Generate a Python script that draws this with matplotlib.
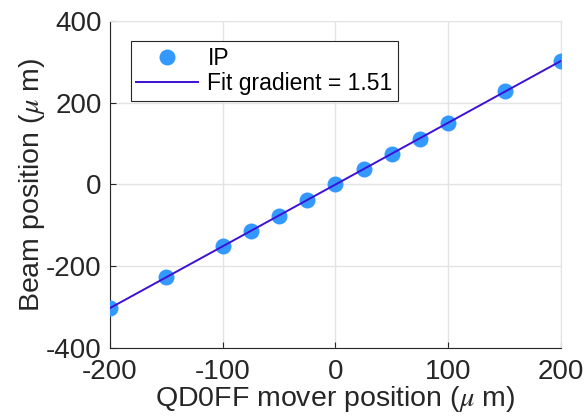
import numpy as np
import matplotlib
matplotlib.use('Agg')
import matplotlib.pyplot as plt

plt.rcParams['font.family'] = ['Liberation Sans', 'DejaVu Sans']
plt.rcParams['mathtext.fontset'] = 'stix'
plt.rcParams['axes.unicode_minus'] = False

# donnees
mover_pos = [-200, -150, -100, -75, -50, -25, 0, 25, 50, 75, 100, 150, 200]
beam_pos = [-303, -227, -151, -113, -76, -38, 0, 37, 75, 112, 151, 228, 302]
fit_x = [-200, 200]
gradient = 1.51
x_ticks = [-200, -100, 0, 100, 200]
y_ticks = [-400, -200, 0, 200, 400]

fig = plt.figure(figsize=(5.85, 4.16), dpi=100)
ax = fig.add_axes([0.188, 0.163, 0.771, 0.787])

ax.plot(mover_pos, beam_pos, 'o', color='#3399ff', markersize=11.5,
        markeredgewidth=0, label='IP', zorder=3)
fx = np.array(fit_x)
ax.plot(fx, gradient * fx, '-', color='#3d10d8', linewidth=1.4,
        label='Fit gradient = 1.51', zorder=4)

ax.set_xlim(-200, 200)
ax.set_ylim(-400, 400)
ax.set_xticks(x_ticks)
ax.set_yticks(y_ticks)
ax.grid(True, color='#e3e3e3', linewidth=1)
ax.set_axisbelow(True)

for s in ['top', 'right']:
    ax.spines[s].set_color('#e3e3e3')
for s in ['left', 'bottom']:
    ax.spines[s].set_color('#262626')
ax.tick_params(direction='in', length=4, labelsize=20, colors='#262626',
               top=False, right=False)
ax.tick_params(axis='x', pad=8)
ax.tick_params(axis='y', pad=6)

ax.set_xlabel(r'QD0FF mover position ($\mu$ m)', fontsize=20.5, color='#262626', labelpad=-1)
ax.set_ylabel(r'Beam position ($\mu$ m)', fontsize=20.5, color='#262626', labelpad=-1)

leg = ax.legend(loc='upper left', fontsize=16.5, frameon=True, fancybox=False,
                edgecolor='#262626', framealpha=1, borderaxespad=0.9,
                handlelength=2.7, handletextpad=0.4, borderpad=0.25,
                labelspacing=0.1)
leg.get_frame().set_linewidth(0.8)

fig.savefig('out.png', dpi=100)
